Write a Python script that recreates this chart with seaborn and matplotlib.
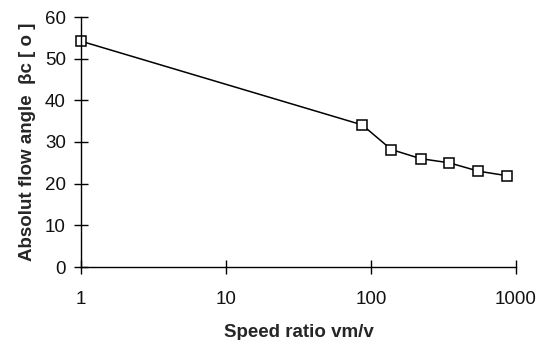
import matplotlib
matplotlib.use("Agg")
import matplotlib.pyplot as plt
import seaborn as sns
import pandas as pd

# data
speed_ratio = [1, 87, 138, 220, 347, 550, 870]
flow_angle = [54.2, 34.1, 28.2, 26.0, 25.0, 23.0, 21.9]
x_ticks = [1, 10, 100, 1000]
y_ticks = [0, 10, 20, 30, 40, 50, 60]

df = pd.DataFrame({"ratio": speed_ratio, "angle": flow_angle})

sns.set_style("ticks")
plt.rcParams['font.family'] = ['Liberation Sans', 'DejaVu Sans']

fig = plt.figure(figsize=(5.53, 3.40), dpi=100)
ax = fig.add_axes([81 / 553, 1 - 267 / 340, (516 - 81) / 553, (267 - 17) / 340])

sns.lineplot(data=df, x="ratio", y="angle", ax=ax, color="black", linewidth=1.1,
             marker="s", markersize=6.5, markerfacecolor="white",
             markeredgecolor="black", markeredgewidth=1.1, clip_on=False)

ax.set_xscale("log")
ax.set_xlim(1, 1000)
ax.set_ylim(0, 60)
ax.set_xticks(x_ticks)
ax.set_xticklabels([str(t) for t in x_ticks])
ax.minorticks_off()
ax.set_yticks(y_ticks)
ax.tick_params(axis="both", which="major", direction="inout", length=10, width=1,
               color="black", labelcolor="#111111", labelsize=13.5)
ax.tick_params(axis="y", pad=6)
ax.tick_params(axis="x", pad=12)
for s in ["top", "right"]:
    ax.spines[s].set_visible(False)
for s in ["left", "bottom"]:
    ax.spines[s].set_color("black")
    ax.spines[s].set_linewidth(1)
ax.set_xlabel("Speed ratio vm/v", fontsize=13.5, fontweight="bold", labelpad=12)
ax.set_ylabel("Absolut flow angle  βc [ o ]", fontsize=13.5, fontweight="bold", labelpad=6)

fig.savefig("out.png", dpi=100)
